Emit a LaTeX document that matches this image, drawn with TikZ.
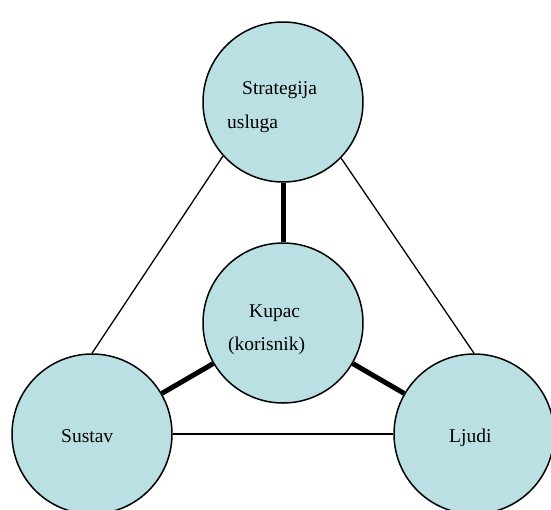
\documentclass[tikz,border=0pt]{standalone}
\usepackage{fontspec}
\setmainfont{Liberation Serif}
\usetikzlibrary{positioning}
\definecolor{discfill}{RGB}{186,224,227}

\begin{document}
\begin{tikzpicture}[
        x=1pt, y=-1pt,
        disc/.style={circle, draw, line width=1.5pt, fill=discfill, minimum size=160pt, inner sep=0pt},
        txt/.style={anchor=base west, inner sep=0pt, font=\fontsize{19.5}{23}\selectfont},
        thinlink/.style={line width=1.3pt},
        thicklink/.style={line width=5pt}
    ]
        \useasboundingbox (0,0) rectangle (551,509);
        \clip (0,0) rectangle (551,509);

        % Circles
        \node[disc] (strategija) at (283,102) {};
        \node[disc] (kupac) at (283,323) {};
        \node[disc] (sustav) at (92,434) {};
        \node[disc] (ljudi) at (474,434) {};

        % Texts
        \node[txt] (strategijaA) at (242,94) {Strategija};
        \node[txt] (strategijaB) at (227,128) {usluga};
        \node[txt] (kupacA) at (249,317) {Kupac};
        \node[txt] (kupacB) at (228,350) {(korisnik)};
        \node[txt] (sustavT) at (61,442) {Sustav};
        \node[txt] (ljudiT) at (449,442) {Ljudi};

        % Links
        \draw[thinlink] (strategija.222) -- (sustav.north);
        \draw[thinlink] (strategija.-44) -- (ljudi.north);
        \draw[thinlink] (sustav) -- (ljudi);
        \draw[thicklink] (strategija) -- (kupac);
        \draw[thicklink] (kupac) -- (sustav);
        \draw[thicklink] (kupac) -- (ljudi);
    \end{tikzpicture}
\end{document}
